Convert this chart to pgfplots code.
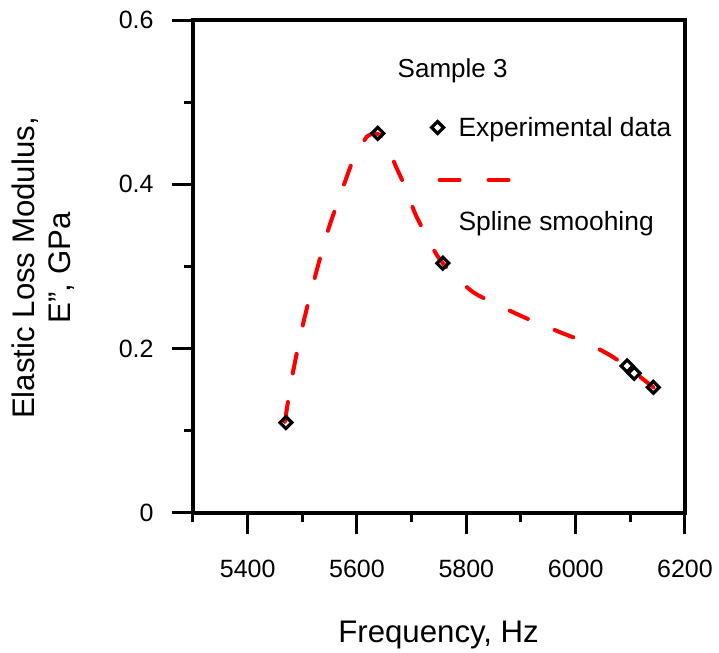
\documentclass[border=0pt]{standalone}
\usepackage{fontspec}
\setmainfont{Liberation Sans}
\usepackage{pgfplots}
\pgfplotsset{compat=1.18}
\definecolor{splred}{RGB}{255,0,0}
\pgfplotsset{
  legA/.style={legend image code/.code={\path[draw=none,fill=none] (-5pt,-5pt) rectangle (5pt,5pt); \draw[##1] plot coordinates {(0pt,1.2pt)};}},
  legB/.style={legend image code/.code={\path[draw=none,fill=none] (0pt,0pt); \draw[##1,overlay] (1pt,21.7pt) -- (36pt,21.7pt);}},
}
\begin{document}
\begin{tikzpicture}
\useasboundingbox (-96.5pt,-70pt) rectangle (263pt,256.5pt);
\begin{axis}[
  at={(0pt,0pt)}, anchor=south west,
  scale only axis, width=246pt, height=246.5pt,
  xmin=5300, xmax=6200, ymin=0, ymax=0.6,
  xtick={5400,5600,5800,6000,6200},
  minor xtick={5300,5500,5700,5900,6100},
  ytick={0,0.2,0.4,0.6},
  minor ytick={0.1,0.3,0.5},
  xtick pos=left, ytick pos=left,
  tick align=outside,
  major tick length=10.3pt, minor tick length=4.3pt,
  axis line style={line width=1.6pt},
  tick style={black, line width=1.5pt},
  scaled x ticks=false, scaled y ticks=false,
  /pgf/number format/1000 sep={},
  /pgf/number format/assume math mode=true,
  tick label style={font=\fontsize{12.5}{14}\selectfont},
  xticklabel style={anchor=base, inner sep=0pt, yshift=-21.8pt},
  yticklabel style={anchor=east, inner sep=0pt, xshift=-9.2pt},
  xlabel={Frequency, Hz},
  ylabel={Elastic Loss Modulus,\\E", GPa},
  xlabel style={font=\fontsize{15.6}{18}\selectfont, at={(axis description cs:0.4992,-0.2617)}, anchor=base},
  ylabel style={font=\fontsize{15.6}{18.2}\selectfont, align=center, at={(axis description cs:-0.3043,0.497)}, anchor=center},
  legend cell align=left,
  legend style={draw=none, fill=none, inner sep=0pt, outer sep=0pt,
    at={(0.4768,0.8034)}, anchor=north west,
    column sep=5.5pt, row sep=33.75pt,
    nodes={inner sep=0pt, text height=10pt, text depth=3pt, font=\fontsize{13.2}{15}\selectfont}},
]
\addplot[black, only marks, mark=square, mark size=2.1pt,
  mark options={rotate=45, fill=white, line width=1.6pt, solid}, legA]
  coordinates {
  (5470,0.110) (5638,0.462) (5757,0.304) (6094,0.179) (6107,0.170) (6142,0.153)
  };
\addlegendentry{Experimental data}
\addplot[splred, line width=2pt, line cap=round, dash pattern=on 10pt off 14.5pt, smooth, mark=none, legB]
  coordinates {
  (5468,0.111) (5482,0.168) (5501,0.229) (5523,0.287) (5548,0.346)
  (5578,0.403) (5592,0.428) (5609,0.448) (5618,0.458) (5634,0.462)
  (5651,0.454) (5671,0.422) (5688,0.397) (5706,0.365) (5724,0.341)
  (5748,0.312) (5775,0.291) (5812,0.269) (5849,0.256) (5893,0.242)
  (5931,0.231) (5979,0.218) (6017,0.208) (6063,0.192) (6098,0.176)
  (6142,0.153)
  };
\addlegendentry{Spline smoohing}
\node[anchor=base, font=\fontsize{13}{15}\selectfont] at (axis cs:5775,0.5306) {Sample 3};
\end{axis}
\end{tikzpicture}
\end{document}
